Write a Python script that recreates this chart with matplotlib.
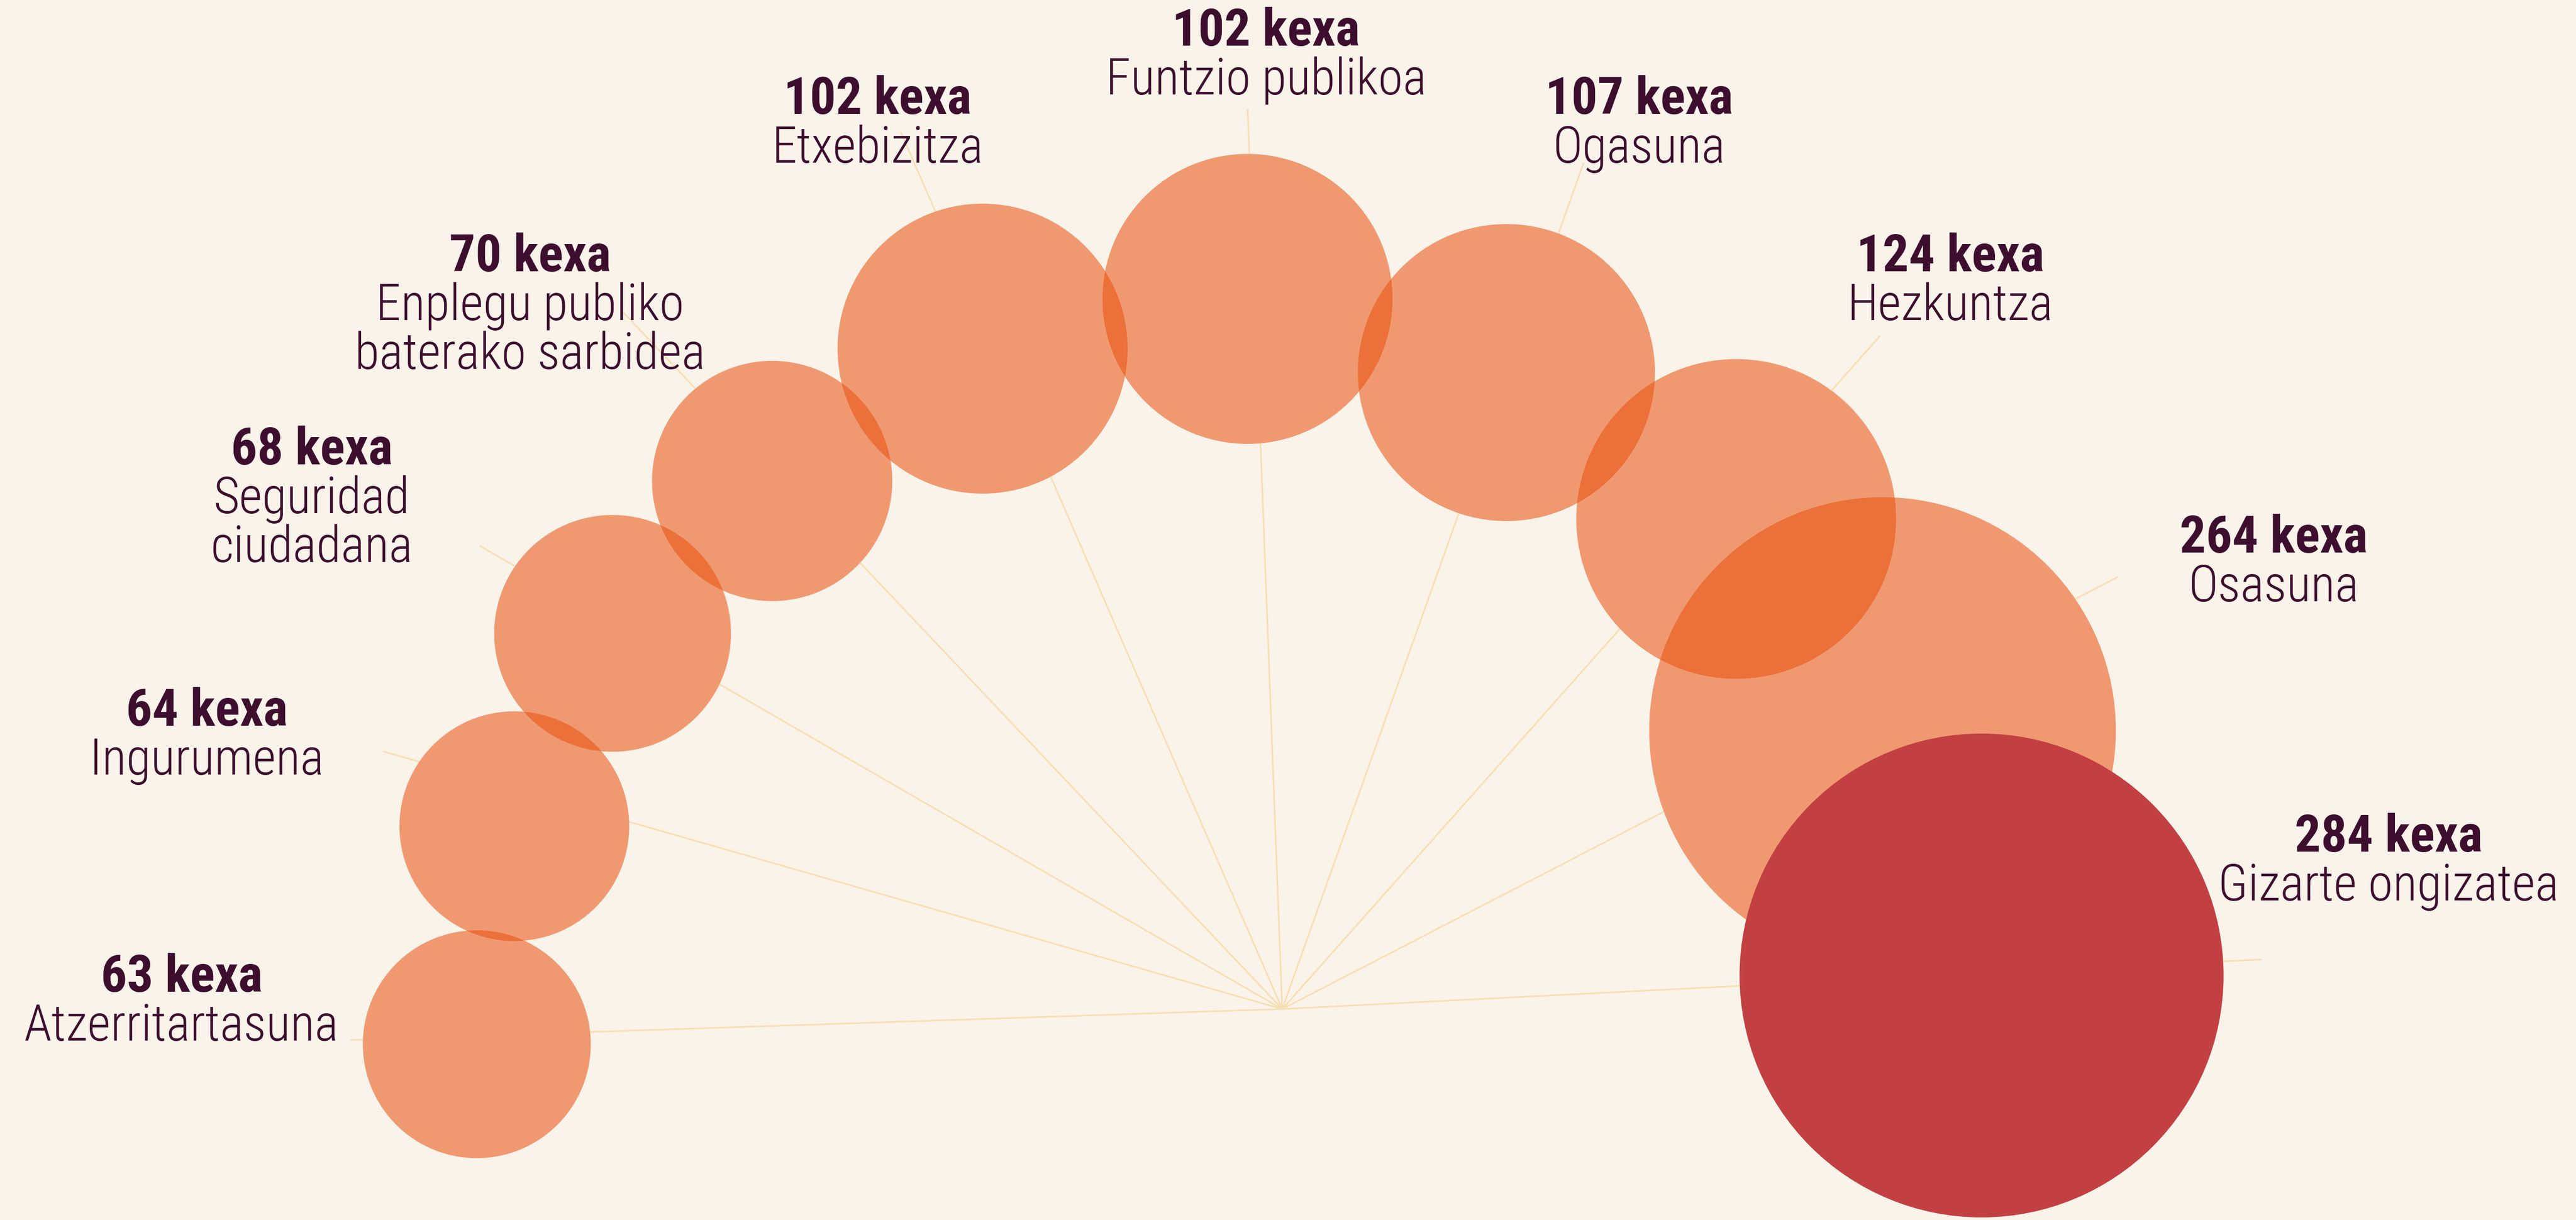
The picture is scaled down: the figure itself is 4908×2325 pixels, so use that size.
import numpy as np
import matplotlib
matplotlib.use("Agg")
import matplotlib.pyplot as plt
from matplotlib.patches import Circle
from matplotlib import font_manager

# datuak
gaiak = ["Atzerritartasuna", "Ingurumena", "Seguridad\nciudadana",
         "Enplegu publiko\nbaterako sarbidea", "Etxebizitza", "Funtzio publikoa",
         "Ogasuna", "Hezkuntza", "Osasuna", "Gizarte ongizatea"]
kexak = [63, 64, 68, 70, 102, 102, 107, 124, 264, 284]

# layout (pixel-like coords, origin top-left)
W, H = 4908, 2325
cx, cy = 2443, 1923
circle_ang = [182.5, 166.6, 150.7, 134.0, 114.4, 92.8, 70.6, 47.2, 24.9, 2.75]
circle_dist = [1536, 1504, 1463, 1399, 1382, 1355, 1286, 1273, 1261, 1334]
ray_ang = [181.9, 164.0, 150.0, 133.4, 113.5, 92.2, 70.4, 48.4, 27.35, 2.9]
ray_len = [1776, 1782, 1766, 1833, 1823, 1716, 1712, 1716, 1793, 1868]
label_x = [346, 394, 594, 1010, 1672, 2412, 3123, 3716, 4332, 4551]
label_y = [1890, 1383, 885, 517, 217, 87, 217, 517, 1053, 1623]
k_r = 27.36  # radius per sqrt(kexa)

bg = "#FAF3EA"
orange = "#E94E0A"
red = "#C34042"
ray_col = "#F7DFB4"
txt_col = "#3D0E2E"

names = {f.name for f in font_manager.fontManager.ttflist}
font = next(f for f in ["Roboto Condensed", "Archivo Narrow", "Liberation Sans Narrow",
                        "IBM Plex Sans Condensed", "Roboto"] if f in names)

fig = plt.figure(figsize=(W / 100, H / 100), dpi=100, facecolor=bg)
ax = fig.add_axes([0, 0, 1, 1])
ax.set_xlim(0, W)
ax.set_ylim(H, 0)
ax.set_aspect("equal")
ax.axis("off")
ax.set_facecolor(bg)

# izpiak
for a, L in zip(ray_ang, ray_len):
    t = np.radians(a)
    ax.plot([cx, cx + L * np.cos(t)], [cy, cy - L * np.sin(t)], color=ray_col, lw=2.2,
            solid_capstyle="butt", zorder=1)

# zirkuluak
xs = [cx + d * np.cos(np.radians(a)) for a, d in zip(circle_ang, circle_dist)]
ys = [cy - d * np.sin(np.radians(a)) for a, d in zip(circle_ang, circle_dist)]
rs = [k_r * np.sqrt(v) for v in kexak]
for x, y, r in zip(xs, ys, rs):
    ax.add_patch(Circle((x, y), r, facecolor=bg, edgecolor="none", zorder=2))
for i, (x, y, r) in enumerate(zip(xs, ys, rs)):
    if kexak[i] == max(kexak):
        ax.add_patch(Circle((x, y), r, facecolor=red, edgecolor="none", zorder=4))
    else:
        ax.add_patch(Circle((x, y), r, facecolor=orange, edgecolor="none", alpha=0.54, zorder=3))

# etiketak
for name, v, lx, ly in zip(gaiak, kexak, label_x, label_y):
    ax.text(lx, ly, f"{v} kexa", ha="center", va="baseline", fontsize=71,
            family=font, weight=900, color=txt_col, zorder=5)
    for j, line in enumerate(name.split("\n")):
        ax.text(lx, ly + 93 * (j + 1), line, ha="center", va="baseline", fontsize=69,
                family=font, weight=300, color=txt_col, zorder=5)

fig.savefig("out.png", dpi=100, facecolor=bg)
